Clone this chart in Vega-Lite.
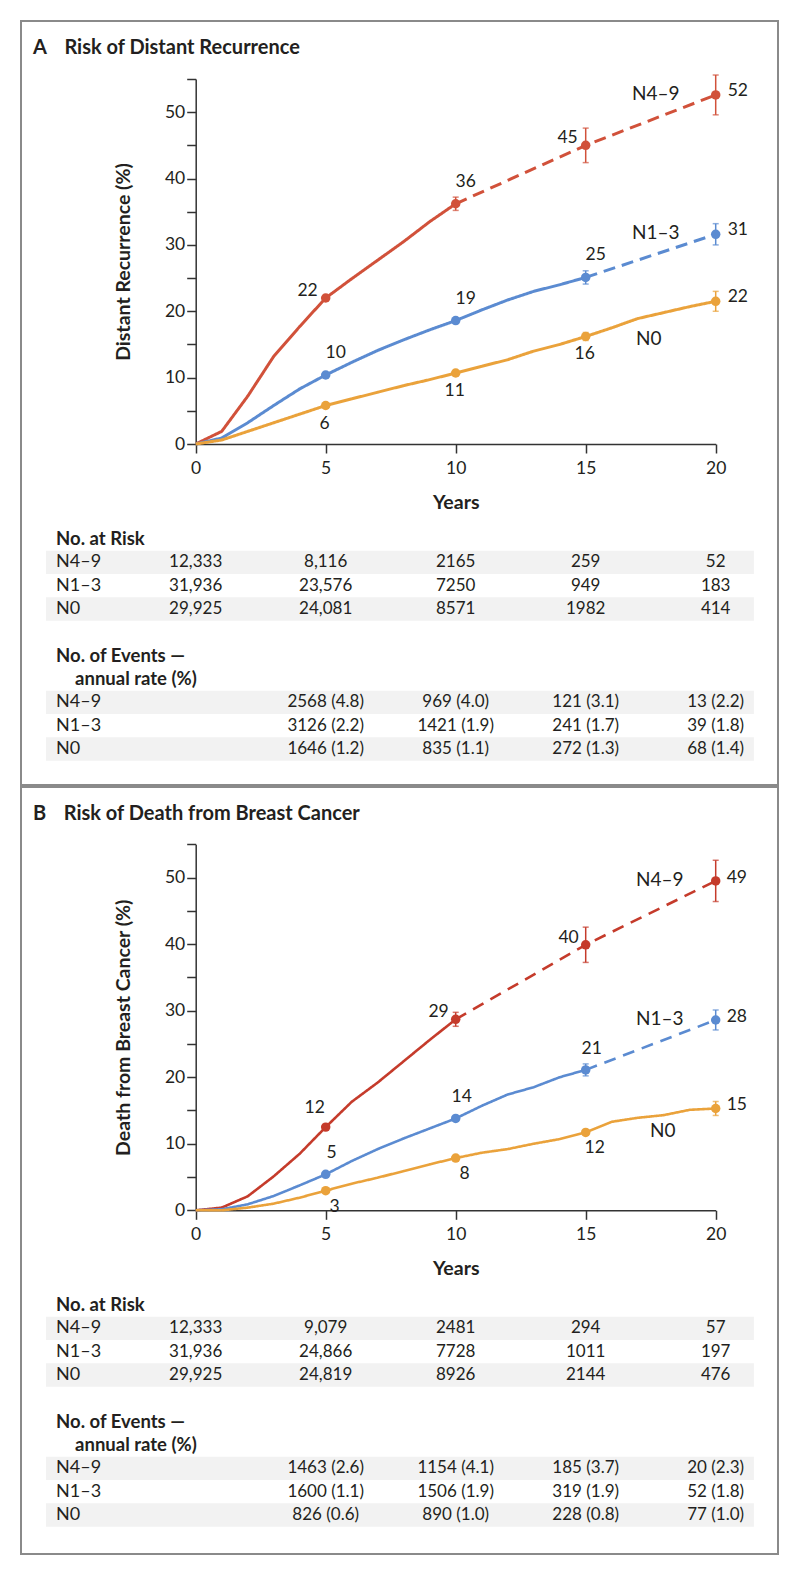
{
  "$schema": "https://vega.github.io/schema/vega-lite/v6.json",
  "background": "white",
  "padding": {"left": 20, "top": 20, "right": 20, "bottom": 20},
  "spacing": 0,
  "config": {
    "font": "Lato",
    "view": {"stroke": "#8a8a8a", "strokeWidth": 2},
    "axis": {"domainColor": "#333333", "tickColor": "#333333", "domainWidth": 1.5, "tickWidth": 1.5, "labelFont": "Lato", "labelFontSize": 17.5, "labelColor": "#231f20", "titleFont": "Lato", "titleFontSize": 19.5, "titleFontWeight": "bold", "titleColor": "#231f20", "grid": false, "tickSize": 9, "labelFlush": false, "labelOverlap": false},
    "text": {"font": "Lato", "fontSize": 17, "color": "#231f20", "baseline": "middle"},
    "title": {"font": "Lato", "fontSize": 20, "fontWeight": "bold", "color": "#231f20"}
  },
  "datasets": {
    "curves": [
      {"panel":"A","group":"N4–9","segment":"observed","year":0,"value":0},
      {"panel":"A","group":"N4–9","segment":"observed","year":1,"value":1.9},
      {"panel":"A","group":"N4–9","segment":"observed","year":2,"value":7.2},
      {"panel":"A","group":"N4–9","segment":"observed","year":3,"value":13.2},
      {"panel":"A","group":"N4–9","segment":"observed","year":4,"value":17.7},
      {"panel":"A","group":"N4–9","segment":"observed","year":5,"value":22.0},
      {"panel":"A","group":"N4–9","segment":"observed","year":6,"value":24.9},
      {"panel":"A","group":"N4–9","segment":"observed","year":7,"value":27.7},
      {"panel":"A","group":"N4–9","segment":"observed","year":8,"value":30.5},
      {"panel":"A","group":"N4–9","segment":"observed","year":9,"value":33.5},
      {"panel":"A","group":"N4–9","segment":"observed","year":10,"value":36.2},
      {"panel":"A","group":"N4–9","segment":"projected","year":10,"value":36.2},
      {"panel":"A","group":"N4–9","segment":"projected","year":15,"value":45.0},
      {"panel":"A","group":"N4–9","segment":"projected","year":20,"value":52.6},
      {"panel":"A","group":"N1–3","segment":"observed","year":0,"value":0},
      {"panel":"A","group":"N1–3","segment":"observed","year":1,"value":0.9},
      {"panel":"A","group":"N1–3","segment":"observed","year":2,"value":3.2},
      {"panel":"A","group":"N1–3","segment":"observed","year":3,"value":5.8},
      {"panel":"A","group":"N1–3","segment":"observed","year":4,"value":8.3},
      {"panel":"A","group":"N1–3","segment":"observed","year":5,"value":10.4},
      {"panel":"A","group":"N1–3","segment":"observed","year":6,"value":12.3},
      {"panel":"A","group":"N1–3","segment":"observed","year":7,"value":14.1},
      {"panel":"A","group":"N1–3","segment":"observed","year":8,"value":15.7},
      {"panel":"A","group":"N1–3","segment":"observed","year":9,"value":17.2},
      {"panel":"A","group":"N1–3","segment":"observed","year":10,"value":18.6},
      {"panel":"A","group":"N1–3","segment":"observed","year":11,"value":20.2},
      {"panel":"A","group":"N1–3","segment":"observed","year":12,"value":21.7},
      {"panel":"A","group":"N1–3","segment":"observed","year":13,"value":23.0},
      {"panel":"A","group":"N1–3","segment":"observed","year":14,"value":24.0},
      {"panel":"A","group":"N1–3","segment":"observed","year":15,"value":25.1},
      {"panel":"A","group":"N1–3","segment":"projected","year":15,"value":25.1},
      {"panel":"A","group":"N1–3","segment":"projected","year":20,"value":31.6},
      {"panel":"A","group":"N0","segment":"observed","year":0,"value":0},
      {"panel":"A","group":"N0","segment":"observed","year":1,"value":0.6},
      {"panel":"A","group":"N0","segment":"observed","year":2,"value":1.9},
      {"panel":"A","group":"N0","segment":"observed","year":3,"value":3.2},
      {"panel":"A","group":"N0","segment":"observed","year":4,"value":4.5},
      {"panel":"A","group":"N0","segment":"observed","year":5,"value":5.8},
      {"panel":"A","group":"N0","segment":"observed","year":6,"value":6.8},
      {"panel":"A","group":"N0","segment":"observed","year":7,"value":7.8},
      {"panel":"A","group":"N0","segment":"observed","year":8,"value":8.8},
      {"panel":"A","group":"N0","segment":"observed","year":9,"value":9.7},
      {"panel":"A","group":"N0","segment":"observed","year":10,"value":10.7},
      {"panel":"A","group":"N0","segment":"observed","year":11,"value":11.7},
      {"panel":"A","group":"N0","segment":"observed","year":12,"value":12.7},
      {"panel":"A","group":"N0","segment":"observed","year":13,"value":14.0},
      {"panel":"A","group":"N0","segment":"observed","year":14,"value":15.0},
      {"panel":"A","group":"N0","segment":"observed","year":15,"value":16.2},
      {"panel":"A","group":"N0","segment":"observed","year":16,"value":17.5},
      {"panel":"A","group":"N0","segment":"observed","year":17,"value":18.9},
      {"panel":"A","group":"N0","segment":"observed","year":18,"value":19.8},
      {"panel":"A","group":"N0","segment":"observed","year":19,"value":20.7},
      {"panel":"A","group":"N0","segment":"observed","year":20,"value":21.5},
      {"panel":"B","group":"N4–9","segment":"observed","year":0,"value":0},
      {"panel":"B","group":"N4–9","segment":"observed","year":1,"value":0.4},
      {"panel":"B","group":"N4–9","segment":"observed","year":2,"value":2.1},
      {"panel":"B","group":"N4–9","segment":"observed","year":3,"value":5.1},
      {"panel":"B","group":"N4–9","segment":"observed","year":4,"value":8.5},
      {"panel":"B","group":"N4–9","segment":"observed","year":5,"value":12.5},
      {"panel":"B","group":"N4–9","segment":"observed","year":6,"value":16.3},
      {"panel":"B","group":"N4–9","segment":"observed","year":7,"value":19.2},
      {"panel":"B","group":"N4–9","segment":"observed","year":8,"value":22.4},
      {"panel":"B","group":"N4–9","segment":"observed","year":9,"value":25.6},
      {"panel":"B","group":"N4–9","segment":"observed","year":10,"value":28.7},
      {"panel":"B","group":"N4–9","segment":"projected","year":10,"value":28.7},
      {"panel":"B","group":"N4–9","segment":"projected","year":15,"value":39.9},
      {"panel":"B","group":"N4–9","segment":"projected","year":20,"value":49.5},
      {"panel":"B","group":"N1–3","segment":"observed","year":0,"value":0},
      {"panel":"B","group":"N1–3","segment":"observed","year":1,"value":0.15},
      {"panel":"B","group":"N1–3","segment":"observed","year":2,"value":0.9},
      {"panel":"B","group":"N1–3","segment":"observed","year":3,"value":2.15},
      {"panel":"B","group":"N1–3","segment":"observed","year":4,"value":3.75},
      {"panel":"B","group":"N1–3","segment":"observed","year":5,"value":5.4},
      {"panel":"B","group":"N1–3","segment":"observed","year":6,"value":7.4},
      {"panel":"B","group":"N1–3","segment":"observed","year":7,"value":9.2},
      {"panel":"B","group":"N1–3","segment":"observed","year":8,"value":10.8},
      {"panel":"B","group":"N1–3","segment":"observed","year":9,"value":12.3},
      {"panel":"B","group":"N1–3","segment":"observed","year":10,"value":13.8},
      {"panel":"B","group":"N1–3","segment":"observed","year":11,"value":15.7},
      {"panel":"B","group":"N1–3","segment":"observed","year":12,"value":17.4},
      {"panel":"B","group":"N1–3","segment":"observed","year":13,"value":18.5},
      {"panel":"B","group":"N1–3","segment":"observed","year":14,"value":20.0},
      {"panel":"B","group":"N1–3","segment":"observed","year":15,"value":21.1},
      {"panel":"B","group":"N1–3","segment":"projected","year":15,"value":21.1},
      {"panel":"B","group":"N1–3","segment":"projected","year":20,"value":28.6},
      {"panel":"B","group":"N0","segment":"observed","year":0,"value":0},
      {"panel":"B","group":"N0","segment":"observed","year":1,"value":0},
      {"panel":"B","group":"N0","segment":"observed","year":2,"value":0.4},
      {"panel":"B","group":"N0","segment":"observed","year":3,"value":1.0},
      {"panel":"B","group":"N0","segment":"observed","year":4,"value":1.9},
      {"panel":"B","group":"N0","segment":"observed","year":5,"value":2.95},
      {"panel":"B","group":"N0","segment":"observed","year":6,"value":4.0},
      {"panel":"B","group":"N0","segment":"observed","year":7,"value":4.9},
      {"panel":"B","group":"N0","segment":"observed","year":8,"value":5.9},
      {"panel":"B","group":"N0","segment":"observed","year":9,"value":6.9},
      {"panel":"B","group":"N0","segment":"observed","year":10,"value":7.85},
      {"panel":"B","group":"N0","segment":"observed","year":11,"value":8.65},
      {"panel":"B","group":"N0","segment":"observed","year":12,"value":9.2},
      {"panel":"B","group":"N0","segment":"observed","year":13,"value":10.0},
      {"panel":"B","group":"N0","segment":"observed","year":14,"value":10.7},
      {"panel":"B","group":"N0","segment":"observed","year":15,"value":11.7},
      {"panel":"B","group":"N0","segment":"observed","year":16,"value":13.3},
      {"panel":"B","group":"N0","segment":"observed","year":17,"value":13.9},
      {"panel":"B","group":"N0","segment":"observed","year":18,"value":14.3},
      {"panel":"B","group":"N0","segment":"observed","year":19,"value":15.1},
      {"panel":"B","group":"N0","segment":"observed","year":20,"value":15.3}
    ],
    "points": [
      {"panel":"A","group":"N4–9","year":5,"value":22.0,"lo":null,"hi":null,"label":22},
      {"panel":"A","group":"N4–9","year":10,"value":36.2,"lo":35.2,"hi":37.2,"label":36},
      {"panel":"A","group":"N4–9","year":15,"value":45.0,"lo":42.4,"hi":47.6,"label":45},
      {"panel":"A","group":"N4–9","year":20,"value":52.6,"lo":49.6,"hi":55.6,"label":52},
      {"panel":"A","group":"N1–3","year":5,"value":10.4,"lo":null,"hi":null,"label":10},
      {"panel":"A","group":"N1–3","year":10,"value":18.6,"lo":null,"hi":null,"label":19},
      {"panel":"A","group":"N1–3","year":15,"value":25.1,"lo":24.1,"hi":26.1,"label":25},
      {"panel":"A","group":"N1–3","year":20,"value":31.6,"lo":30.0,"hi":33.2,"label":31},
      {"panel":"A","group":"N0","year":5,"value":5.8,"lo":null,"hi":null,"label":6},
      {"panel":"A","group":"N0","year":10,"value":10.7,"lo":null,"hi":null,"label":11},
      {"panel":"A","group":"N0","year":15,"value":16.2,"lo":15.6,"hi":16.8,"label":16},
      {"panel":"A","group":"N0","year":20,"value":21.5,"lo":20.0,"hi":23.0,"label":22},
      {"panel":"B","group":"N4–9","year":5,"value":12.5,"lo":null,"hi":null,"label":12},
      {"panel":"B","group":"N4–9","year":10,"value":28.7,"lo":27.65,"hi":29.75,"label":29},
      {"panel":"B","group":"N4–9","year":15,"value":39.9,"lo":37.25,"hi":42.55,"label":40},
      {"panel":"B","group":"N4–9","year":20,"value":49.5,"lo":46.4,"hi":52.6,"label":49},
      {"panel":"B","group":"N1–3","year":5,"value":5.4,"lo":null,"hi":null,"label":5},
      {"panel":"B","group":"N1–3","year":10,"value":13.8,"lo":null,"hi":null,"label":14},
      {"panel":"B","group":"N1–3","year":15,"value":21.1,"lo":20.2,"hi":22.0,"label":21},
      {"panel":"B","group":"N1–3","year":20,"value":28.6,"lo":27.1,"hi":30.1,"label":28},
      {"panel":"B","group":"N0","year":5,"value":2.95,"lo":null,"hi":null,"label":3},
      {"panel":"B","group":"N0","year":10,"value":7.85,"lo":null,"hi":null,"label":8},
      {"panel":"B","group":"N0","year":15,"value":11.7,"lo":null,"hi":null,"label":12},
      {"panel":"B","group":"N0","year":20,"value":15.3,"lo":14.25,"hi":16.35,"label":15}
    ],
    "tables": [
      {"panel":"A","row":"risk N4–9","group":"N4–9","year":0,"text":"12,333"},
      {"panel":"A","row":"risk N4–9","group":"N4–9","year":5,"text":"8,116"},
      {"panel":"A","row":"risk N4–9","group":"N4–9","year":10,"text":"2165"},
      {"panel":"A","row":"risk N4–9","group":"N4–9","year":15,"text":"259"},
      {"panel":"A","row":"risk N4–9","group":"N4–9","year":20,"text":"52"},
      {"panel":"A","row":"risk N1–3","group":"N1–3","year":0,"text":"31,936"},
      {"panel":"A","row":"risk N1–3","group":"N1–3","year":5,"text":"23,576"},
      {"panel":"A","row":"risk N1–3","group":"N1–3","year":10,"text":"7250"},
      {"panel":"A","row":"risk N1–3","group":"N1–3","year":15,"text":"949"},
      {"panel":"A","row":"risk N1–3","group":"N1–3","year":20,"text":"183"},
      {"panel":"A","row":"risk N0","group":"N0","year":0,"text":"29,925"},
      {"panel":"A","row":"risk N0","group":"N0","year":5,"text":"24,081"},
      {"panel":"A","row":"risk N0","group":"N0","year":10,"text":"8571"},
      {"panel":"A","row":"risk N0","group":"N0","year":15,"text":"1982"},
      {"panel":"A","row":"risk N0","group":"N0","year":20,"text":"414"},
      {"panel":"A","row":"events N4–9","group":"N4–9","year":5,"text":"2568 (4.8)"},
      {"panel":"A","row":"events N4–9","group":"N4–9","year":10,"text":"969 (4.0)"},
      {"panel":"A","row":"events N4–9","group":"N4–9","year":15,"text":"121 (3.1)"},
      {"panel":"A","row":"events N4–9","group":"N4–9","year":20,"text":"13 (2.2)"},
      {"panel":"A","row":"events N1–3","group":"N1–3","year":5,"text":"3126 (2.2)"},
      {"panel":"A","row":"events N1–3","group":"N1–3","year":10,"text":"1421 (1.9)"},
      {"panel":"A","row":"events N1–3","group":"N1–3","year":15,"text":"241 (1.7)"},
      {"panel":"A","row":"events N1–3","group":"N1–3","year":20,"text":"39 (1.8)"},
      {"panel":"A","row":"events N0","group":"N0","year":5,"text":"1646 (1.2)"},
      {"panel":"A","row":"events N0","group":"N0","year":10,"text":"835 (1.1)"},
      {"panel":"A","row":"events N0","group":"N0","year":15,"text":"272 (1.3)"},
      {"panel":"A","row":"events N0","group":"N0","year":20,"text":"68 (1.4)"},
      {"panel":"B","row":"risk N4–9","group":"N4–9","year":0,"text":"12,333"},
      {"panel":"B","row":"risk N4–9","group":"N4–9","year":5,"text":"9,079"},
      {"panel":"B","row":"risk N4–9","group":"N4–9","year":10,"text":"2481"},
      {"panel":"B","row":"risk N4–9","group":"N4–9","year":15,"text":"294"},
      {"panel":"B","row":"risk N4–9","group":"N4–9","year":20,"text":"57"},
      {"panel":"B","row":"risk N1–3","group":"N1–3","year":0,"text":"31,936"},
      {"panel":"B","row":"risk N1–3","group":"N1–3","year":5,"text":"24,866"},
      {"panel":"B","row":"risk N1–3","group":"N1–3","year":10,"text":"7728"},
      {"panel":"B","row":"risk N1–3","group":"N1–3","year":15,"text":"1011"},
      {"panel":"B","row":"risk N1–3","group":"N1–3","year":20,"text":"197"},
      {"panel":"B","row":"risk N0","group":"N0","year":0,"text":"29,925"},
      {"panel":"B","row":"risk N0","group":"N0","year":5,"text":"24,819"},
      {"panel":"B","row":"risk N0","group":"N0","year":10,"text":"8926"},
      {"panel":"B","row":"risk N0","group":"N0","year":15,"text":"2144"},
      {"panel":"B","row":"risk N0","group":"N0","year":20,"text":"476"},
      {"panel":"B","row":"events N4–9","group":"N4–9","year":5,"text":"1463 (2.6)"},
      {"panel":"B","row":"events N4–9","group":"N4–9","year":10,"text":"1154 (4.1)"},
      {"panel":"B","row":"events N4–9","group":"N4–9","year":15,"text":"185 (3.7)"},
      {"panel":"B","row":"events N4–9","group":"N4–9","year":20,"text":"20 (2.3)"},
      {"panel":"B","row":"events N1–3","group":"N1–3","year":5,"text":"1600 (1.1)"},
      {"panel":"B","row":"events N1–3","group":"N1–3","year":10,"text":"1506 (1.9)"},
      {"panel":"B","row":"events N1–3","group":"N1–3","year":15,"text":"319 (1.9)"},
      {"panel":"B","row":"events N1–3","group":"N1–3","year":20,"text":"52 (1.8)"},
      {"panel":"B","row":"events N0","group":"N0","year":5,"text":"826 (0.6)"},
      {"panel":"B","row":"events N0","group":"N0","year":10,"text":"890 (1.0)"},
      {"panel":"B","row":"events N0","group":"N0","year":15,"text":"228 (0.8)"},
      {"panel":"B","row":"events N0","group":"N0","year":20,"text":"77 (1.0)"}
    ],
    "headers": [
      {"row":"risk header","text":"No. at Risk"},
      {"row":"events header","text":"No. of Events —"},
      {"row":"events subheader","text":"annual rate (%)"}
    ]
  },
  "resolve": {"scale": {"x": "independent", "y": "independent", "color": "independent", "strokeDash": "independent"}},
  "vconcat": [
    {
      "width": 757,
      "height": 764,
      "title": {"text": "A\u2003\u2009Risk of Distant Recurrence", "anchor": "start", "frame": "group", "offset": -37, "dx": 12},
      "resolve": {"scale": {"y": "independent"}, "axis": {"y": "independent"}},
      "layer": [
        {
          "layer": [
            {
              "data": {"name": "curves"},
              "transform": [{"filter": "datum.panel === 'A'"}],
              "mark": {"type": "line", "strokeWidth": 3},
              "encoding": {
                "x": {"field": "year", "type": "quantitative", "scale": {"domain": [0, 20], "range": [174.7, 694.7], "nice": false, "zero": false},
                      "axis": {"values": [0, 5, 10, 15, 20], "title": "Years", "offset": -341, "labelPadding": 6, "titleY": 64.5, "titleBaseline": "alphabetic"}},
                "y": {"field": "value", "type": "quantitative", "title": "Distant Recurrence (%)", "scale": {"domain": [0, 55], "range": [423, 58], "nice": false, "zero": false},
                      "axis": {"values": [0, 5, 10, 15, 20, 25, 30, 35, 40, 45, 50, 55], "labelExpr": "datum.value % 10 === 0 ? datum.label : ''", "offset": -174.7, "labelPadding": 2, "titleX": -72.7, "titleBaseline": "middle"}},
                "color": {"field": "group", "type": "nominal", "scale": {"domain": ["N4–9", "N1–3", "N0"], "range": ["#d1513a", "#5b8bd1", "#eaa23b"]}, "legend": null},
                "detail": {"field": "segment"},
                "strokeDash": {"field": "segment", "type": "nominal", "scale": {"domain": ["observed", "projected"], "range": [[1, 0], [12, 7]]}, "legend": null}
              }
            },
            {
              "data": {"name": "points"},
              "transform": [{"filter": "datum.panel === 'A' && datum.lo != null"}],
              "mark": {"type": "rule", "strokeWidth": 1.5},
              "encoding": {
                "x": {"field": "year", "type": "quantitative"},
                "y": {"field": "lo", "type": "quantitative", "title": "Distant Recurrence (%)"},
                "y2": {"field": "hi"},
                "color": {"field": "group", "type": "nominal", "legend": null}
              }
            },
            {
              "data": {"name": "points"},
              "transform": [{"filter": "datum.panel === 'A' && datum.lo != null"}],
              "mark": {"type": "tick", "orient": "horizontal", "size": 6, "thickness": 1.5},
              "encoding": {
                "x": {"field": "year", "type": "quantitative"},
                "y": {"field": "lo", "type": "quantitative", "title": "Distant Recurrence (%)"},
                "color": {"field": "group", "type": "nominal", "legend": null}
              }
            },
            {
              "data": {"name": "points"},
              "transform": [{"filter": "datum.panel === 'A' && datum.lo != null"}],
              "mark": {"type": "tick", "orient": "horizontal", "size": 6, "thickness": 1.5},
              "encoding": {
                "x": {"field": "year", "type": "quantitative"},
                "y": {"field": "hi", "type": "quantitative", "title": "Distant Recurrence (%)"},
                "color": {"field": "group", "type": "nominal", "legend": null}
              }
            },
            {
              "data": {"name": "points"},
              "transform": [{"filter": "datum.panel === 'A'"}],
              "mark": {"type": "circle", "size": 90, "opacity": 1},
              "encoding": {
                "x": {"field": "year", "type": "quantitative"},
                "y": {"field": "value", "type": "quantitative", "title": "Distant Recurrence (%)"},
                "color": {"field": "group", "type": "nominal", "legend": null}
              }
            },
            {
              "data": {"name": "points"},
              "transform": [{"filter": "datum.panel === 'A' && datum.year === 20"}],
              "mark": {"type": "text", "align": "left", "dx": 12, "dy": -4, "fontSize": 17.5},
              "encoding": {
                "x": {"field": "year", "type": "quantitative"},
                "y": {"field": "value", "type": "quantitative", "title": "Distant Recurrence (%)"},
                "text": {"field": "label", "type": "nominal"}
              }
            },
            {
              "data": {"name": "points"},
              "transform": [{"filter": "datum.panel === 'A' && ((datum.group === 'N1–3' && datum.year < 20) || (datum.group === 'N4–9' && datum.year === 10))"}],
              "mark": {"type": "text", "align": "center", "dx": 10, "dy": -22, "fontSize": 17.5},
              "encoding": {
                "x": {"field": "year", "type": "quantitative"},
                "y": {"field": "value", "type": "quantitative", "title": "Distant Recurrence (%)"},
                "text": {"field": "label", "type": "nominal"}
              }
            },
            {
              "data": {"name": "points"},
              "transform": [{"filter": "datum.panel === 'A' && datum.group === 'N4–9' && (datum.year === 5 || datum.year === 15)"}],
              "mark": {"type": "text", "align": "right", "dx": -8, "dy": -7, "fontSize": 17.5},
              "encoding": {
                "x": {"field": "year", "type": "quantitative"},
                "y": {"field": "value", "type": "quantitative", "title": "Distant Recurrence (%)"},
                "text": {"field": "label", "type": "nominal"}
              }
            },
            {
              "data": {"name": "points"},
              "transform": [{"filter": "datum.panel === 'A' && datum.group === 'N0' && datum.year < 20"}],
              "mark": {"type": "text", "align": "center", "dx": -1, "dy": 18, "fontSize": 17.5},
              "encoding": {
                "x": {"field": "year", "type": "quantitative"},
                "y": {"field": "value", "type": "quantitative", "title": "Distant Recurrence (%)"},
                "text": {"field": "label", "type": "nominal"}
              }
            },
            {
              "data": {"name": "points"},
              "transform": [{"filter": "datum.panel === 'A' && datum.year === 20 && datum.group !== 'N0'"}],
              "mark": {"type": "text", "align": "center", "dx": -60, "dy": -1, "fontSize": 19},
              "encoding": {
                "x": {"field": "year", "type": "quantitative"},
                "y": {"field": "value", "type": "quantitative", "title": "Distant Recurrence (%)"},
                "text": {"field": "group", "type": "nominal"}
              }
            },
            {
              "data": {"name": "points"},
              "transform": [{"filter": "datum.panel === 'A' && datum.year === 20 && datum.group === 'N0'"}],
              "mark": {"type": "text", "align": "center", "dx": -67, "dy": 38, "fontSize": 19},
              "encoding": {
                "x": {"field": "year", "type": "quantitative"},
                "y": {"field": "value", "type": "quantitative", "title": "Distant Recurrence (%)"},
                "text": {"field": "group", "type": "nominal"}
              }
            }
          ]
        },
        {
          "layer": [
            {
              "data": {"name": "tables"},
              "transform": [{"filter": "datum.panel === 'A' && datum.year === 5 && datum.group !== 'N1–3'"}],
              "mark": {"type": "rect", "color": "#f2f2f2"},
              "encoding": {
                "x": {"datum": -5.76},
                "x2": {"datum": 21.47},
                "y": {"field": "row", "type": "nominal", "axis": null,
                      "scale": {"type": "band", "domain": ["risk header", "risk N4–9", "risk N1–3", "risk N0", "gap", "events header", "events subheader", "events N4–9", "events N1–3", "events N0"], "range": [506.3, 739.7], "paddingInner": 0, "paddingOuter": 0}}
              }
            },
            {
              "data": {"name": "tables"},
              "transform": [{"filter": "datum.panel === 'A' && datum.year === 5"}],
              "mark": {"type": "text", "align": "left", "fontSize": 18},
              "encoding": {
                "x": {"datum": -5.37},
                "y": {"field": "row", "type": "nominal", "axis": null, "scale": {"type": "band"}},
                "text": {"field": "group", "type": "nominal"}
              }
            },
            {
              "data": {"name": "tables"},
              "transform": [{"filter": "datum.panel === 'A'"}],
              "mark": {"type": "text", "align": "center"},
              "encoding": {
                "x": {"field": "year", "type": "quantitative"},
                "y": {"field": "row", "type": "nominal", "axis": null, "scale": {"type": "band"}},
                "text": {"field": "text", "type": "nominal"}
              }
            },
            {
              "data": {"name": "headers"},
              "transform": [{"filter": "datum.row !== 'events subheader'"}],
              "mark": {"type": "text", "align": "left", "fontWeight": "bold", "fontSize": 18.5},
              "encoding": {
                "x": {"datum": -5.37},
                "y": {"field": "row", "type": "nominal", "axis": null, "scale": {"type": "band"}},
                "text": {"field": "text", "type": "nominal"}
              }
            },
            {
              "data": {"name": "headers"},
              "transform": [{"filter": "datum.row === 'events subheader'"}],
              "mark": {"type": "text", "align": "left", "fontWeight": "bold", "fontSize": 18.5, "dx": 19},
              "encoding": {
                "x": {"datum": -5.37},
                "y": {"field": "row", "type": "nominal", "axis": null, "scale": {"type": "band"}},
                "text": {"field": "text", "type": "nominal"}
              }
            }
          ]
        }
      ]
    },
    {
      "width": 757,
      "height": 767,
      "title": {"text": "B\u2003\u2009Risk of Death from Breast Cancer", "anchor": "start", "frame": "group", "offset": -37, "dx": 12},
      "resolve": {"scale": {"y": "independent"}, "axis": {"y": "independent"}},
      "layer": [
        {
          "layer": [
            {
              "data": {"name": "curves"},
              "transform": [{"filter": "datum.panel === 'B'"}],
              "mark": {"type": "line", "strokeWidth": 2.6},
              "encoding": {
                "x": {"field": "year", "type": "quantitative", "scale": {"domain": [0, 20], "range": [174.7, 694.7], "nice": false, "zero": false},
                      "axis": {"values": [0, 5, 10, 15, 20], "title": "Years", "offset": -343.7, "labelPadding": 6, "titleY": 64.5, "titleBaseline": "alphabetic"}},
                "y": {"field": "value", "type": "quantitative", "title": "Death from Breast Cancer (%)", "scale": {"domain": [0, 55], "range": [423.3, 57.3], "nice": false, "zero": false},
                      "axis": {"values": [0, 5, 10, 15, 20, 25, 30, 35, 40, 45, 50, 55], "labelExpr": "datum.value % 10 === 0 ? datum.label : ''", "offset": -174.7, "labelPadding": 2, "titleX": -72.7, "titleBaseline": "middle"}},
                "color": {"field": "group", "type": "nominal", "scale": {"domain": ["N4–9", "N1–3", "N0"], "range": ["#c53b2b", "#5b8bd1", "#eaa23b"]}, "legend": null},
                "detail": {"field": "segment"},
                "strokeDash": {"field": "segment", "type": "nominal", "scale": {"domain": ["observed", "projected"], "range": [[1, 0], [12, 8]]}, "legend": null}
              }
            },
            {
              "data": {"name": "points"},
              "transform": [{"filter": "datum.panel === 'B' && datum.lo != null"}],
              "mark": {"type": "rule", "strokeWidth": 1.5},
              "encoding": {
                "x": {"field": "year", "type": "quantitative"},
                "y": {"field": "lo", "type": "quantitative", "title": "Death from Breast Cancer (%)"},
                "y2": {"field": "hi"},
                "color": {"field": "group", "type": "nominal", "legend": null}
              }
            },
            {
              "data": {"name": "points"},
              "transform": [{"filter": "datum.panel === 'B' && datum.lo != null"}],
              "mark": {"type": "tick", "orient": "horizontal", "size": 6, "thickness": 1.5},
              "encoding": {
                "x": {"field": "year", "type": "quantitative"},
                "y": {"field": "lo", "type": "quantitative", "title": "Death from Breast Cancer (%)"},
                "color": {"field": "group", "type": "nominal", "legend": null}
              }
            },
            {
              "data": {"name": "points"},
              "transform": [{"filter": "datum.panel === 'B' && datum.lo != null"}],
              "mark": {"type": "tick", "orient": "horizontal", "size": 6, "thickness": 1.5},
              "encoding": {
                "x": {"field": "year", "type": "quantitative"},
                "y": {"field": "hi", "type": "quantitative", "title": "Death from Breast Cancer (%)"},
                "color": {"field": "group", "type": "nominal", "legend": null}
              }
            },
            {
              "data": {"name": "points"},
              "transform": [{"filter": "datum.panel === 'B'"}],
              "mark": {"type": "circle", "size": 90, "opacity": 1},
              "encoding": {
                "x": {"field": "year", "type": "quantitative"},
                "y": {"field": "value", "type": "quantitative", "title": "Death from Breast Cancer (%)"},
                "color": {"field": "group", "type": "nominal", "legend": null}
              }
            },
            {
              "data": {"name": "points"},
              "transform": [{"filter": "datum.panel === 'B' && datum.year === 20"}],
              "mark": {"type": "text", "align": "left", "dx": 11, "dy": -3, "fontSize": 17.5},
              "encoding": {
                "x": {"field": "year", "type": "quantitative"},
                "y": {"field": "value", "type": "quantitative", "title": "Death from Breast Cancer (%)"},
                "text": {"field": "label", "type": "nominal"}
              }
            },
            {
              "data": {"name": "points"},
              "transform": [{"filter": "datum.panel === 'B' && datum.group === 'N1–3' && datum.year < 20"}],
              "mark": {"type": "text", "align": "center", "dx": 6, "dy": -21, "fontSize": 17.5},
              "encoding": {
                "x": {"field": "year", "type": "quantitative"},
                "y": {"field": "value", "type": "quantitative", "title": "Death from Breast Cancer (%)"},
                "text": {"field": "label", "type": "nominal"}
              }
            },
            {
              "data": {"name": "points"},
              "transform": [{"filter": "datum.panel === 'B' && datum.group === 'N4–9' && (datum.year === 10 || datum.year === 15)"}],
              "mark": {"type": "text", "align": "right", "dx": -7, "dy": -7, "fontSize": 17.5},
              "encoding": {
                "x": {"field": "year", "type": "quantitative"},
                "y": {"field": "value", "type": "quantitative", "title": "Death from Breast Cancer (%)"},
                "text": {"field": "label", "type": "nominal"}
              }
            },
            {
              "data": {"name": "points"},
              "transform": [{"filter": "datum.panel === 'B' && datum.group === 'N4–9' && datum.year === 5"}],
              "mark": {"type": "text", "align": "center", "dx": -11, "dy": -19, "fontSize": 17.5},
              "encoding": {
                "x": {"field": "year", "type": "quantitative"},
                "y": {"field": "value", "type": "quantitative", "title": "Death from Breast Cancer (%)"},
                "text": {"field": "label", "type": "nominal"}
              }
            },
            {
              "data": {"name": "points"},
              "transform": [{"filter": "datum.panel === 'B' && datum.group === 'N0' && datum.year < 20"}],
              "mark": {"type": "text", "align": "center", "dx": 9, "dy": 16, "fontSize": 17.5},
              "encoding": {
                "x": {"field": "year", "type": "quantitative"},
                "y": {"field": "value", "type": "quantitative", "title": "Death from Breast Cancer (%)"},
                "text": {"field": "label", "type": "nominal"}
              }
            },
            {
              "data": {"name": "points"},
              "transform": [{"filter": "datum.panel === 'B' && datum.year === 20 && datum.group !== 'N0'"}],
              "mark": {"type": "text", "align": "center", "dx": -56, "dy": -1, "fontSize": 19},
              "encoding": {
                "x": {"field": "year", "type": "quantitative"},
                "y": {"field": "value", "type": "quantitative", "title": "Death from Breast Cancer (%)"},
                "text": {"field": "group", "type": "nominal"}
              }
            },
            {
              "data": {"name": "points"},
              "transform": [{"filter": "datum.panel === 'B' && datum.year === 20 && datum.group === 'N0'"}],
              "mark": {"type": "text", "align": "center", "dx": -53, "dy": 23, "fontSize": 19},
              "encoding": {
                "x": {"field": "year", "type": "quantitative"},
                "y": {"field": "value", "type": "quantitative", "title": "Death from Breast Cancer (%)"},
                "text": {"field": "group", "type": "nominal"}
              }
            }
          ]
        },
        {
          "layer": [
            {
              "data": {"name": "tables"},
              "transform": [{"filter": "datum.panel === 'B' && datum.year === 5 && datum.group !== 'N1–3'"}],
              "mark": {"type": "rect", "color": "#f2f2f2"},
              "encoding": {
                "x": {"datum": -5.76},
                "x2": {"datum": 21.47},
                "y": {"field": "row", "type": "nominal", "axis": null,
                      "scale": {"type": "band", "domain": ["risk header", "risk N4–9", "risk N1–3", "risk N0", "gap", "events header", "events subheader", "events N4–9", "events N1–3", "events N0"], "range": [506.3, 739.7], "paddingInner": 0, "paddingOuter": 0}}
              }
            },
            {
              "data": {"name": "tables"},
              "transform": [{"filter": "datum.panel === 'B' && datum.year === 5"}],
              "mark": {"type": "text", "align": "left", "fontSize": 18},
              "encoding": {
                "x": {"datum": -5.37},
                "y": {"field": "row", "type": "nominal", "axis": null, "scale": {"type": "band"}},
                "text": {"field": "group", "type": "nominal"}
              }
            },
            {
              "data": {"name": "tables"},
              "transform": [{"filter": "datum.panel === 'B'"}],
              "mark": {"type": "text", "align": "center"},
              "encoding": {
                "x": {"field": "year", "type": "quantitative"},
                "y": {"field": "row", "type": "nominal", "axis": null, "scale": {"type": "band"}},
                "text": {"field": "text", "type": "nominal"}
              }
            },
            {
              "data": {"name": "headers"},
              "transform": [{"filter": "datum.row !== 'events subheader'"}],
              "mark": {"type": "text", "align": "left", "fontWeight": "bold", "fontSize": 18.5},
              "encoding": {
                "x": {"datum": -5.37},
                "y": {"field": "row", "type": "nominal", "axis": null, "scale": {"type": "band"}},
                "text": {"field": "text", "type": "nominal"}
              }
            },
            {
              "data": {"name": "headers"},
              "transform": [{"filter": "datum.row === 'events subheader'"}],
              "mark": {"type": "text", "align": "left", "fontWeight": "bold", "fontSize": 18.5, "dx": 19},
              "encoding": {
                "x": {"datum": -5.37},
                "y": {"field": "row", "type": "nominal", "axis": null, "scale": {"type": "band"}},
                "text": {"field": "text", "type": "nominal"}
              }
            }
          ]
        }
      ]
    }
  ]
}
